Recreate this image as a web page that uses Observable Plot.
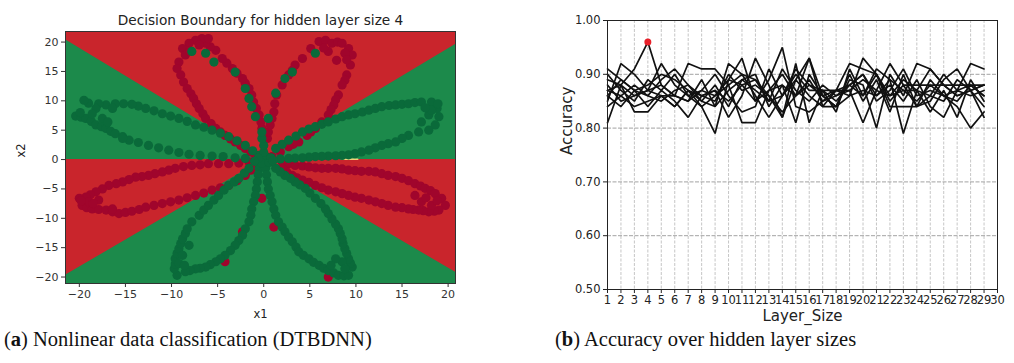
<!DOCTYPE html>
<html>
<head>
<meta charset="utf-8">
<script src="https://cdn.jsdelivr.net/npm/d3@7"></script>
<script src="https://cdn.jsdelivr.net/npm/@observablehq/plot@0.6"></script>
<style>
  html, body { margin: 0; padding: 0; background: #fff; }
  #wrap { position: relative; width: 1014px; height: 363px; overflow: hidden; }
  #pa { position: absolute; left: 0; top: 0; }
  #pb { position: absolute; left: 540px; top: 0; }
  .cap { position: absolute; top: 328px; font-family: "Liberation Serif", serif; font-size: 20.5px; color: #111; white-space: nowrap; }
</style>
</head>
<body>
<div id="wrap">
  <div id="pa"></div>
  <div id="pb"></div>
  <div class="cap" style="left:4px">(<b>a</b>) Nonlinear data classification (DTBDNN)</div>
  <div class="cap" style="left:555px">(<b>b</b>) Accuracy over hidden layer sizes</div>
</div>
<script>
// ---------- Panel (a) data ----------
const titleA = "Decision Boundary for hidden layer size 4";
const xTicksA = [-20, -15, -10, -5, 0, 5, 10, 15, 20];
const yTicksA = [-20, -15, -10, -5, 0, 5, 10, 15, 20];
const boundaryX = [-21.5, 0, 20.8];
const boundaryUpper = [20.4, 0, 19.6];
const boundaryLower = [-19.7, 0, -19.2];
const sliverX = [8.4, 10.2];
const sliverY = [0.05, 0.05];

const redPts = [
  // upper-left petal
  [-0.2,5.3],[-0.3,6.4],[-0.5,7.6],[-0.8,8.7],[-1.1,9.8],[-1.3,11.0],[-1.6,12.1],[-2.0,13.0],[-2.3,13.8],[-2.9,14.7],[-3.4,15.5],[-4.0,16.4],[-4.5,17.2],[-5.2,18.6],[-5.8,19.2],[-6.3,19.8],[-6.7,20.6],
  [-7.4,20.3],[-8.1,19.8],[-8.8,18.9],[-8.5,17.8],[-9.2,16.6],[-9.4,15.5],[-9.0,14.4],[-8.7,13.2],[-7.0,19.5],[-6.0,20.6],[-8.0,18.5],
  [-8.3,12.1],[-7.9,11.2],[-7.6,10.4],[-7.3,9.5],[-7.0,8.7],[-6.6,7.8],[-6.3,7.0],[-5.7,6.1],[-5.2,5.3],[-4.7,4.7],[-4.2,4.1],[-3.6,3.5],[-3.1,3.0],[-2.5,2.4],[-2.0,1.9],[-1.4,1.3],[-0.9,0.7],
  // upper-right petal
  [0.4,3.6],[0.5,4.7],[0.7,5.9],[0.9,7.0],[1.1,8.1],[1.2,9.5],[1.4,11.0],[2.0,12.7],[2.7,14.4],[3.1,15.2],[3.4,16.1],[4.2,17.2],[5.1,18.9],[6.0,20.1],[6.7,20.3],
  [7.4,19.8],[8.0,20.0],[8.5,19.8],[9.2,18.9],[9.6,17.8],[9.4,16.1],[9.0,14.4],[8.8,13.5],[8.5,12.7],[8.1,11.0],[7.8,10.2],[7.6,9.3],[7.3,8.5],[7.0,7.6],[6.3,6.4],[5.6,5.3],[5.1,4.7],[4.7,4.1],[3.8,3.0],[3.2,2.6],[2.7,2.2],[1.8,1.3],[0.9,0.5],
  [7.0,18.4],[7.9,16.9],[8.8,18.1],[6.5,19.0],[9.0,17.0],
  // lower-left petal
  [-1.6,-0.4],[-2.7,-0.6],[-3.8,-0.7],[-4.9,-0.7],[-6.0,-0.7],[-6.9,-0.9],[-7.8,-1.0],[-8.7,-1.2],[-9.6,-1.5],[-10.3,-1.8],[-11.0,-2.1],[-11.8,-2.4],[-12.5,-2.7],[-13.2,-2.9],[-13.9,-3.0],[-14.6,-3.4],[-15.3,-3.8],[-16.0,-4.1],[-16.8,-4.4],[-17.5,-5.0],[-18.2,-5.5],[-18.8,-6.0],[-19.3,-6.4],[-20.0,-6.6],
  [-19.7,-7.8],[-19.2,-8.2],[-18.6,-8.4],[-17.9,-8.5],[-17.1,-8.6],[-16.4,-8.9],[-15.7,-9.2],[-15.0,-9.0],[-14.3,-8.8],[-13.5,-8.5],[-12.8,-8.1],[-11.9,-7.8],[-11.0,-7.5],[-10.1,-7.2],[-9.2,-6.9],[-8.3,-6.5],[-7.4,-6.1],[-6.5,-5.7],[-5.6,-5.2],[-4.7,-4.8],[-3.8,-4.4],[-2.9,-3.6],[-2.0,-2.7],[-1.4,-1.8],[-0.9,-1.0],
  [-19.0,-7.2],[-17.9,-6.9],[-16.4,-8.4],[-18.5,-7.5],[-19.8,-7.0],
  // lower-right petal
  [2.0,-0.4],[2.7,-0.7],[3.4,-1.0],[4.2,-1.1],[4.9,-1.25],[5.6,-1.4],[6.3,-1.5],[7.0,-1.5],[7.8,-1.5],[8.5,-1.6],[9.2,-1.8],[9.9,-1.9],[10.6,-2.0],[11.4,-2.0],[12.1,-2.1],[12.8,-2.4],[13.5,-2.7],[14.3,-2.9],[15.0,-3.2],[15.7,-3.6],[16.4,-4.1],[17.0,-4.5],[17.5,-4.9],[18.1,-5.3],[18.6,-5.8],[19.3,-6.6],[19.7,-7.8],
  [19.0,-8.6],[18.5,-8.8],[17.9,-8.9],[17.3,-8.7],[16.8,-8.6],[16.2,-8.5],[15.7,-8.4],[15.0,-8.2],[14.3,-8.1],[13.5,-7.8],[12.8,-7.5],[12.1,-7.2],[11.4,-6.9],[10.6,-6.6],[9.9,-6.4],[9.2,-6.1],[8.5,-5.8],[7.8,-5.5],[7.0,-5.2],[6.3,-4.8],[5.6,-4.4],[4.9,-3.9],[4.2,-3.5],[3.6,-3.1],[3.1,-2.7],[2.5,-2.1],[2.0,-1.5],
  [17.1,-7.2],[18.2,-7.8],[16.4,-6.1],[18.8,-7.0],[17.6,-6.5],
  // stray red points
  [-2.3,-12.3],[-0.2,-6.6],[1.1,-11.5],[7.0,-20.0],[-4.2,-17.4]
];

const greenPts = [
  // left-upper petal
  [-0.5,0.7],[-1.2,1.5],[-2.0,2.4],[-2.9,3.2],[-3.8,3.9],[-4.7,4.5],[-5.6,5.0],[-6.5,5.5],[-7.4,5.9],[-8.3,6.5],[-9.2,7.0],[-10.1,7.4],[-11.0,7.8],[-11.9,8.3],[-12.8,8.7],[-13.6,9.1],[-14.3,9.4],[-15.2,9.5],[-16.1,9.5],[-17.1,9.3],[-17.9,9.5],[-18.2,8.7],[-19.0,9.6],[-19.5,10.1],
  [-20.4,7.4],[-19.8,7.2],[-19.3,7.0],[-18.7,6.5],[-18.2,5.9],[-17.6,5.6],[-17.1,5.3],[-16.6,4.8],[-16.1,4.4],[-15.3,3.9],[-14.6,3.3],[-13.6,2.9],[-12.5,2.4],[-11.4,2.0],[-10.3,1.6],[-9.2,1.2],[-8.1,0.9],[-6.9,0.7],[-5.6,0.6],[-4.4,0.5],[-3.1,0.3],[-2.0,0.2],
  [-18.6,7.8],[-17.5,7.0],[-16.4,8.7],[-15.3,3.6],[-16.9,6.4],[-19.9,8.0],
  // right-upper petal
  [1.3,1.9],[2.0,2.6],[2.7,3.3],[3.5,4.0],[4.2,4.7],[4.9,5.2],[5.6,5.6],[6.3,6.0],[7.0,6.4],[7.8,6.9],[8.5,7.3],[9.2,7.6],[9.9,7.8],[10.7,8.1],[11.4,8.4],[12.1,8.7],[12.8,9.0],[13.6,9.2],[14.3,9.3],[15.0,9.4],[15.7,9.5],[16.4,9.7],[17.1,9.8],[18.2,9.8],[18.8,8.7],[19.0,7.3],[18.6,5.9],[17.9,5.0],[16.8,4.7],[15.7,4.1],[15.0,3.6],[14.3,3.0],[13.5,2.7],[12.8,2.4],[12.1,2.0],[11.4,1.6],[10.6,1.3],[9.9,1.0],[9.2,0.8],[8.5,0.7],[7.8,0.65],[7.0,0.6],[6.3,0.55],[5.6,0.5],[4.9,0.4],[4.2,0.3],[3.4,0.25],[2.7,0.2],[1.8,0.1],
  [17.9,7.6],[17.1,6.4],[18.2,8.4],[18.9,9.5],[17.5,8.8],
  // lower-left petal
  [-0.5,-1.5],[-0.6,-2.6],[-0.7,-3.8],[-0.8,-5.0],[-0.9,-6.1],[-1.1,-7.2],[-1.3,-8.4],[-1.4,-9.5],[-1.6,-10.6],[-2.0,-11.8],[-2.3,-12.9],[-2.7,-13.8],[-3.1,-14.6],[-3.6,-15.5],[-4.2,-16.3],[-4.7,-16.9],[-5.2,-17.4],[-5.8,-17.9],[-6.3,-18.3],[-6.9,-18.5],[-7.4,-18.6],[-8.0,-18.9],[-8.5,-19.1],[-9.4,-19.7],[-9.7,-18.6],[-9.6,-17.8],[-9.6,-16.9],[-9.4,-16.0],[-9.2,-15.2],[-9.0,-14.3],[-8.8,-13.5],[-8.5,-12.6],[-8.3,-11.8],[-7.8,-10.6],[-7.0,-9.5],[-6.5,-8.6],[-6.0,-7.8],[-5.4,-6.9],[-4.9,-6.1],[-4.3,-5.2],[-3.8,-4.4],[-3.2,-3.8],[-2.7,-3.2],[-2.1,-2.3],[-1.6,-1.5],
  [-8.8,-16.3],[-8.1,-14.6],[-9.2,-17.7],[-8.6,-18.0],
  // lower-right petal
  [0.2,-1.5],[0.3,-2.6],[0.4,-3.8],[0.5,-5.0],[0.7,-6.1],[0.9,-7.2],[1.1,-8.4],[1.3,-9.5],[1.6,-10.6],[2.0,-11.5],[2.3,-12.3],[2.7,-13.2],[3.1,-14.0],[3.5,-14.9],[3.8,-15.7],[4.3,-16.3],[4.9,-16.9],[5.4,-17.5],[6.0,-18.0],[6.5,-18.5],[7.0,-18.9],[7.6,-19.3],[8.1,-19.7],[8.7,-19.8],[9.2,-19.7],[9.6,-18.3],[9.4,-17.6],[9.2,-16.9],[9.0,-16.0],[8.8,-15.2],[8.6,-14.3],[8.5,-13.5],[8.3,-12.6],[8.1,-11.8],[7.8,-11.0],[7.4,-10.1],[7.0,-9.2],[6.7,-8.4],[6.2,-7.5],[5.6,-6.6],[5.0,-5.7],[4.5,-4.9],[3.9,-4.3],[3.4,-3.8],[2.9,-3.2],[2.3,-2.7],[1.8,-2.1],[1.3,-1.5],
  [8.5,-17.4],[7.8,-16.9],[8.8,-18.6],[7.3,-18.0],
  // centre
  [0,0],[-0.3,0.3],[0.3,-0.3],[0.2,0.5],[-0.2,-0.6],[0,1.2],[0,2.4],[-0.2,3.6],[-0.2,4.7],[0.6,-0.5],[-0.6,0.2],[0.8,0.3],[1.0,-0.2],[-1.0,-0.3],
  // green points lying on the red upper petals
  [-7.8,18.4],[-6.3,18.1],[-5.4,16.6],[-3.1,14.9],[-2.0,12.1],[-1.6,10.4],[-1.3,9.0],[-0.9,7.3],
  [0.5,7.0],[1.3,11.3],[2.3,13.8],[3.1,14.9],[5.6,18.1]
];

// ---------- Panel (b) data ----------
const layerSizes = [1,2,3,4,5,6,7,8,9,10,11,12,13,14,15,16,17,18,19,20,21,22,23,24,25,26,27,28,29];
const xTicksB = [1,2,3,4,5,6,7,8,9,10,11,12,13,14,15,16,17,18,19,20,21,22,23,24,25,26,27,28,29,30];
const yTicksB = [0.5, 0.6, 0.7, 0.8, 0.9, 1.0];
const run1  = [0.87,0.88,0.91,0.96,0.88,0.86,0.85,0.87,0.86,0.89,0.88,0.85,0.87,0.90,0.86,0.88,0.87,0.85,0.88,0.90,0.86,0.89,0.87,0.85,0.88,0.86,0.87,0.88,0.86];
const run2  = [0.91,0.89,0.87,0.86,0.89,0.91,0.88,0.85,0.84,0.92,0.90,0.89,0.85,0.86,0.91,0.88,0.86,0.87,0.92,0.91,0.90,0.86,0.89,0.87,0.91,0.88,0.86,0.87,0.88];
const run3  = [0.81,0.88,0.86,0.87,0.86,0.84,0.87,0.86,0.87,0.82,0.86,0.93,0.88,0.82,0.89,0.93,0.84,0.87,0.86,0.93,0.90,0.85,0.88,0.84,0.86,0.85,0.89,0.87,0.84];
const run4  = [0.89,0.88,0.83,0.83,0.86,0.86,0.92,0.91,0.91,0.88,0.81,0.81,0.87,0.88,0.86,0.93,0.86,0.84,0.89,0.88,0.80,0.90,0.86,0.92,0.91,0.88,0.86,0.87,0.88];
const run5  = [0.85,0.92,0.90,0.87,0.92,0.88,0.86,0.84,0.79,0.89,0.93,0.85,0.89,0.95,0.84,0.83,0.85,0.87,0.88,0.86,0.91,0.89,0.79,0.87,0.86,0.90,0.87,0.92,0.91];
const run6  = [0.87,0.86,0.88,0.86,0.85,0.87,0.88,0.86,0.85,0.90,0.87,0.88,0.86,0.82,0.92,0.81,0.87,0.87,0.87,0.81,0.87,0.92,0.88,0.88,0.88,0.88,0.88,0.88,0.88];
const run7  = [0.86,0.84,0.87,0.88,0.90,0.89,0.87,0.85,0.88,0.84,0.89,0.90,0.84,0.88,0.81,0.90,0.86,0.84,0.90,0.85,0.89,0.83,0.90,0.84,0.89,0.86,0.84,0.80,0.83];
const run8  = [0.90,0.87,0.85,0.89,0.87,0.90,0.86,0.87,0.90,0.86,0.83,0.84,0.91,0.86,0.90,0.87,0.87,0.83,0.91,0.86,0.90,0.84,0.84,0.84,0.85,0.89,0.91,0.87,0.82];
const run9  = [0.84,0.86,0.84,0.85,0.86,0.84,0.87,0.84,0.86,0.88,0.90,0.86,0.82,0.86,0.89,0.86,0.84,0.84,0.86,0.87,0.86,0.88,0.85,0.89,0.84,0.82,0.87,0.86,0.87];
const run10 = [0.88,0.85,0.86,0.87,0.88,0.86,0.85,0.89,0.84,0.87,0.89,0.87,0.85,0.91,0.87,0.85,0.88,0.86,0.88,0.90,0.85,0.87,0.91,0.86,0.87,0.86,0.85,0.88,0.86];
const run11 = [0.86,0.89,0.87,0.84,0.87,0.85,0.82,0.86,0.87,0.85,0.88,0.89,0.86,0.83,0.86,0.89,0.85,0.86,0.87,0.89,0.87,0.86,0.87,0.87,0.83,0.87,0.82,0.89,0.85];
const runs = [run1, run2, run3, run4, run5, run6, run7, run8, run9, run10, run11];
const bestSize = [4];
const bestAcc = [0.96];

// ---------- Colours ----------
const bgRed = "#c9252c", bgGreen = "#1c8a4b", dotRed = "#a0052c", dotGreen = "#0a6a3a";

// ---------- Panel (a) ----------
const boundaryRows = boundaryX.map((x, i) => ({x, upper: boundaryUpper[i], lower: boundaryLower[i]}));
const sliverRows = sliverX.map((x, i) => ({x, y: sliverY[i]}));
const redRows = redPts.map(([x1, x2]) => ({x1, x2}));
const greenRows = greenPts.map(([x1, x2]) => ({x1, x2}));

const plotA = Plot.plot({
  width: 480, height: 330,
  marginLeft: 65, marginRight: 25, marginTop: 31, marginBottom: 47,
  x: {domain: [-21.5, 20.8], ticks: xTicksA, tickSize: 4, tickPadding: 3, label: null},
  y: {domain: [-21.1, 21.8], ticks: yTicksA, tickSize: 4, tickPadding: 3, label: null},
  style: {fontFamily: "DejaVu Sans", fontSize: "11px", color: "#333", background: "transparent"},
  marks: [
    Plot.frame({fill: bgGreen}),
    Plot.areaY(boundaryRows, {x: "x", y1: "upper", y2: 21.8, fill: bgRed}),
    Plot.areaY(boundaryRows, {x: "x", y1: "lower", y2: 0, fill: bgRed}),
    Plot.line(sliverRows, {x: "x", y: "y", stroke: "#f2d27a", strokeWidth: 1.5}),
    Plot.dot(redRows, {x: "x1", y: "x2", r: 4.6, fill: dotRed, stroke: "none"}),
    Plot.dot(greenRows, {x: "x1", y: "x2", r: 4.6, fill: dotGreen, stroke: "none"}),
    Plot.frame({stroke: "#333", strokeWidth: 1}),
    Plot.text([titleA], {frameAnchor: "top", dy: -11, fontSize: 13.7, fill: "#222", lineAnchor: "middle"}),
    Plot.text(["x1"], {frameAnchor: "bottom", dy: 31, fontSize: 11.5, fill: "#222", lineAnchor: "middle"}),
    Plot.text(["x2"], {frameAnchor: "left", dx: -44, rotate: -90, fontSize: 11.5, fill: "#222", lineAnchor: "middle"})
  ]
});
document.getElementById("pa").appendChild(plotA);

// ---------- Panel (b) ----------
const lineRows = runs.flatMap((vals, r) => vals.map((v, j) => ({run: r, size: layerSizes[j], acc: v})));
const bestRows = bestSize.map((s, i) => ({size: s, acc: bestAcc[i]}));

const plotB = Plot.plot({
  width: 474, height: 330,
  marginLeft: 67, marginRight: 17, marginTop: 20, marginBottom: 41,
  x: {domain: [1, 30], ticks: xTicksB, tickFormat: d => String(d), tickSize: 4, tickPadding: 2, label: null},
  y: {domain: [0.5, 1.0], ticks: yTicksB, tickFormat: d => d.toFixed(2), tickSize: 4, tickPadding: 3, label: null},
  style: {fontFamily: "DejaVu Sans", fontSize: "11.5px", color: "#222", background: "transparent"},
  marks: [
    Plot.ruleX(xTicksB, {stroke: "#b8b8b8", strokeWidth: 0.8, strokeDasharray: "3,1.5"}),
    Plot.ruleY(yTicksB.slice(1, -1), {stroke: "#8a8a8a", strokeWidth: 0.8, strokeDasharray: "4,1.5"}),
    Plot.line(lineRows, {x: "size", y: "acc", z: "run", stroke: "#111", strokeWidth: 1.7, strokeLinejoin: "miter"}),
    Plot.dot(bestRows, {x: "size", y: "acc", r: 3.5, fill: "#e8202a", stroke: "none"}),
    Plot.frame({stroke: "#222", strokeWidth: 1}),
    Plot.text(["Accuracy"], {frameAnchor: "left", dx: -40, rotate: -90, fontSize: 15, fill: "#222", lineAnchor: "middle"}),
    Plot.text(["Layer_Size"], {frameAnchor: "bottom", dy: 27, fontSize: 15, fill: "#222", lineAnchor: "middle"})
  ]
});
document.getElementById("pb").appendChild(plotB);
</script>
</body>
</html>
